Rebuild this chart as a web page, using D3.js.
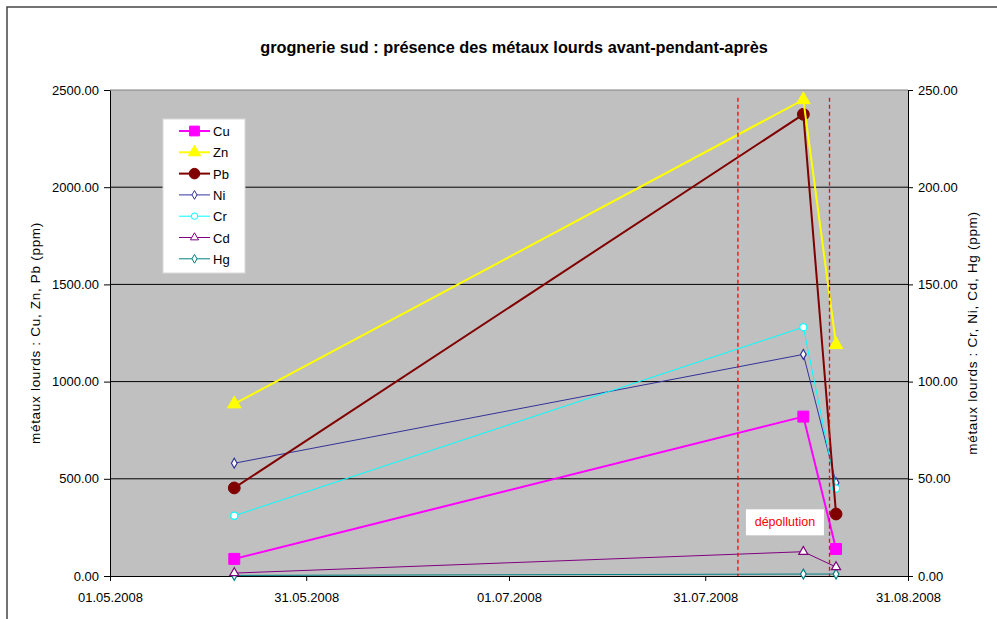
<!DOCTYPE html>
<html lang="fr">
<head>
    <meta charset="UTF-8">
    <title>grognerie sud</title>
    <script src="https://d3js.org/d3.v7.min.js"></script>
    <style>
        body { margin: 0; background: #fff; font-family: "Liberation Sans", Arial, sans-serif; }
        svg text { font-family: "Liberation Sans", Arial, sans-serif; }
    </style>
</head>
<body>
<div id="chart"></div>
<script>
    // Sample dates (before / during / after)
    const dates = ["2008-05-20", "2008-08-15", "2008-08-20"];
    // Left axis series (ppm)
    const cu = [88, 820, 139];
    const zn = [885, 2450, 1190];
    const pb = [453, 2375, 319];
    // Right axis series (ppm)
    const ni = [58, 114, 48];
    const cr = [31, 128, 45];
    const cd = [1.5, 12.5, 4.6];
    const hg = [0.3, 1, 1];
    // Depollution period markers
    const markerDates = ["2008-08-05", "2008-08-19"];
    const xTicks = ["2008-05-01", "2008-05-31", "2008-07-01", "2008-07-31", "2008-08-31"];
    const yLeftTicks = [0, 500, 1000, 1500, 2000, 2500];
    const yRightTicks = [0, 50, 100, 150, 200, 250];

    const W = 997, H = 619;
    const margin = {top: 90, right: 89, bottom: 43, left: 110};
    const width = W - margin.left - margin.right,
          height = H - margin.top - margin.bottom;

    const parse = d3.timeParse("%Y-%m-%d");
    const fmt = d3.timeFormat("%d.%m.%Y");

    const svg = d3.select("#chart").append("svg")
        .attr("width", W).attr("height", H);

    // outer frame
    svg.append("rect")
        .attr("x", 7).attr("y", 7)
        .attr("width", W).attr("height", H)
        .attr("fill", "none").attr("stroke", "#444").attr("stroke-width", 1.5);

    svg.append("text")
        .attr("x", 514).attr("y", 53)
        .attr("text-anchor", "middle")
        .style("font-size", "16.3px").style("font-weight", "bold")
        .text("grognerie sud : présence des métaux lourds avant-pendant-après");

    const g = svg.append("g").attr("transform", `translate(${margin.left},${margin.top})`);

    const x = d3.scaleTime().domain([parse(xTicks[0]), parse(xTicks[4])]).range([0, width]);
    const yL = d3.scaleLinear().domain([0, 2500]).range([height, 0]);
    const yR = d3.scaleLinear().domain([0, 250]).range([height, 0]);

    g.append("rect").attr("width", width).attr("height", height).attr("fill", "#c0c0c0");

    // gridlines
    g.selectAll(".grid").data(yLeftTicks.slice(1, 5)).enter().append("line")
        .attr("x1", 0).attr("x2", width)
        .attr("y1", d => yL(d)).attr("y2", d => yL(d))
        .attr("stroke", "#000").attr("stroke-width", 1);
    g.append("line").attr("x1", 0).attr("x2", width).attr("y1", 0).attr("y2", 0)
        .attr("stroke", "#808080").attr("stroke-width", 1);

    // axes
    const axisFont = sel => sel.selectAll("text").style("font-size", "13px").attr("fill", "#000");
    g.append("g").attr("transform", `translate(0,${height})`)
        .call(d3.axisBottom(x).tickValues(xTicks.map(parse)).tickFormat(fmt).tickSize(5).tickSizeOuter(0))
        .call(axisFont)
        .call(a => a.selectAll("text").attr("dy", "1.4em"));
    g.append("g")
        .call(d3.axisLeft(yL).tickValues(yLeftTicks).tickFormat(d3.format(".2f")).tickSize(6).tickSizeOuter(0))
        .call(axisFont)
        .call(a => a.selectAll("text").attr("x", -11));
    g.append("g").attr("transform", `translate(${width},0)`)
        .call(d3.axisRight(yR).tickValues(yRightTicks).tickFormat(d3.format(".2f")).tickSize(5).tickSizeOuter(0))
        .call(axisFont)
        .call(a => a.selectAll("text").attr("x", 10));

    svg.append("text")
        .attr("transform", "translate(40,333) rotate(-90)")
        .attr("text-anchor", "middle").style("font-size", "13.5px").style("letter-spacing", "0.7px")
        .text("métaux lourds : Cu, Zn, Pb (ppm)");
    svg.append("text")
        .attr("transform", "translate(977,333) rotate(-90)")
        .attr("text-anchor", "middle").style("font-size", "13.5px").style("letter-spacing", "0.7px")
        .text("métaux lourds : Cr, Ni, Cd, Hg (ppm)");

    const series = [
        {name: "Cu", values: cu, axis: yL, color: "#ff00ff", width: 2, shape: d3.symbolSquare, size: 120, fill: "#ff00ff"},
        {name: "Zn", values: zn, axis: yL, color: "#ffff00", width: 2, shape: d3.symbolTriangle, size: 80, fill: "#ffff00"},
        {name: "Pb", values: pb, axis: yL, color: "#800000", width: 2, shape: d3.symbolCircle, size: 110, fill: "#800000"},
        {name: "Ni", values: ni, axis: yR, color: "#333399", width: 1, shape: d3.symbolDiamond, size: 28, fill: "#fff"},
        {name: "Cr", values: cr, axis: yR, color: "#00ffff", width: 1, shape: d3.symbolCircle, size: 40, fill: "#fff"},
        {name: "Cd", values: cd, axis: yR, color: "#800080", width: 1, shape: d3.symbolTriangle, size: 36, fill: "#fff"},
        {name: "Hg", values: hg, axis: yR, color: "#008080", width: 1, shape: d3.symbolDiamond, size: 28, fill: "#fff"}
    ];

    // draw right-axis series first, then left (thick lines on top)
    const order = [6, 5, 3, 4, 0, 2, 1];
    order.forEach(i => {
        const s = series[i];
        const pts = dates.map((d, j) => ({date: parse(d), v: s.values[j]}));
        const line = d3.line().x(d => x(d.date)).y(d => s.axis(d.v));
        g.append("path").datum(pts)
            .attr("fill", "none").attr("stroke", s.color).attr("stroke-width", s.width)
            .attr("d", line);
        g.selectAll(null).data(pts).enter().append("path")
            .attr("transform", d => `translate(${x(d.date)},${s.axis(d.v)})`)
            .attr("d", d3.symbol().type(s.shape).size(s.size))
            .attr("fill", s.fill).attr("stroke", s.color).attr("stroke-width", s.width === 2 ? 1 : 1.2);
    });

    // depollution dashed lines
    g.selectAll(".mark").data(markerDates).enter().append("line")
        .attr("x1", d => x(parse(d))).attr("x2", d => x(parse(d)))
        .attr("y1", yL(2460)).attr("y2", height)
        .attr("stroke", "#ff0000").attr("stroke-width", 1.3).attr("stroke-dasharray", "4,3");

    g.append("rect")
        .attr("x", x(parse("2008-08-05")) + 8).attr("y", yL(343))
        .attr("width", 78).attr("height", 26).attr("fill", "#fff");
    g.append("text")
        .attr("x", x(parse("2008-08-05")) + 47).attr("y", yL(343) + 17)
        .attr("text-anchor", "middle").attr("fill", "#ff0000").style("font-size", "12.5px")
        .text("dépollution");

    // legend
    const leg = svg.append("g").attr("transform", "translate(163,119)");
    leg.append("rect").attr("width", 82).attr("height", 154)
        .attr("fill", "#fff").attr("stroke", "#d8d8d8");
    series.forEach((s, i) => {
        const yy = 12 + i * 21.3;
        leg.append("line").attr("x1", 16).attr("x2", 47).attr("y1", yy).attr("y2", yy)
            .attr("stroke", s.color).attr("stroke-width", s.width);
        leg.append("path").attr("transform", `translate(31.5,${yy})`)
            .attr("d", d3.symbol().type(s.shape).size(s.size * 0.8))
            .attr("fill", s.fill).attr("stroke", s.color);
        leg.append("text").attr("x", 50).attr("y", yy + 5)
            .style("font-size", "13px").text(s.name);
    });
</script>
</body>
</html>
